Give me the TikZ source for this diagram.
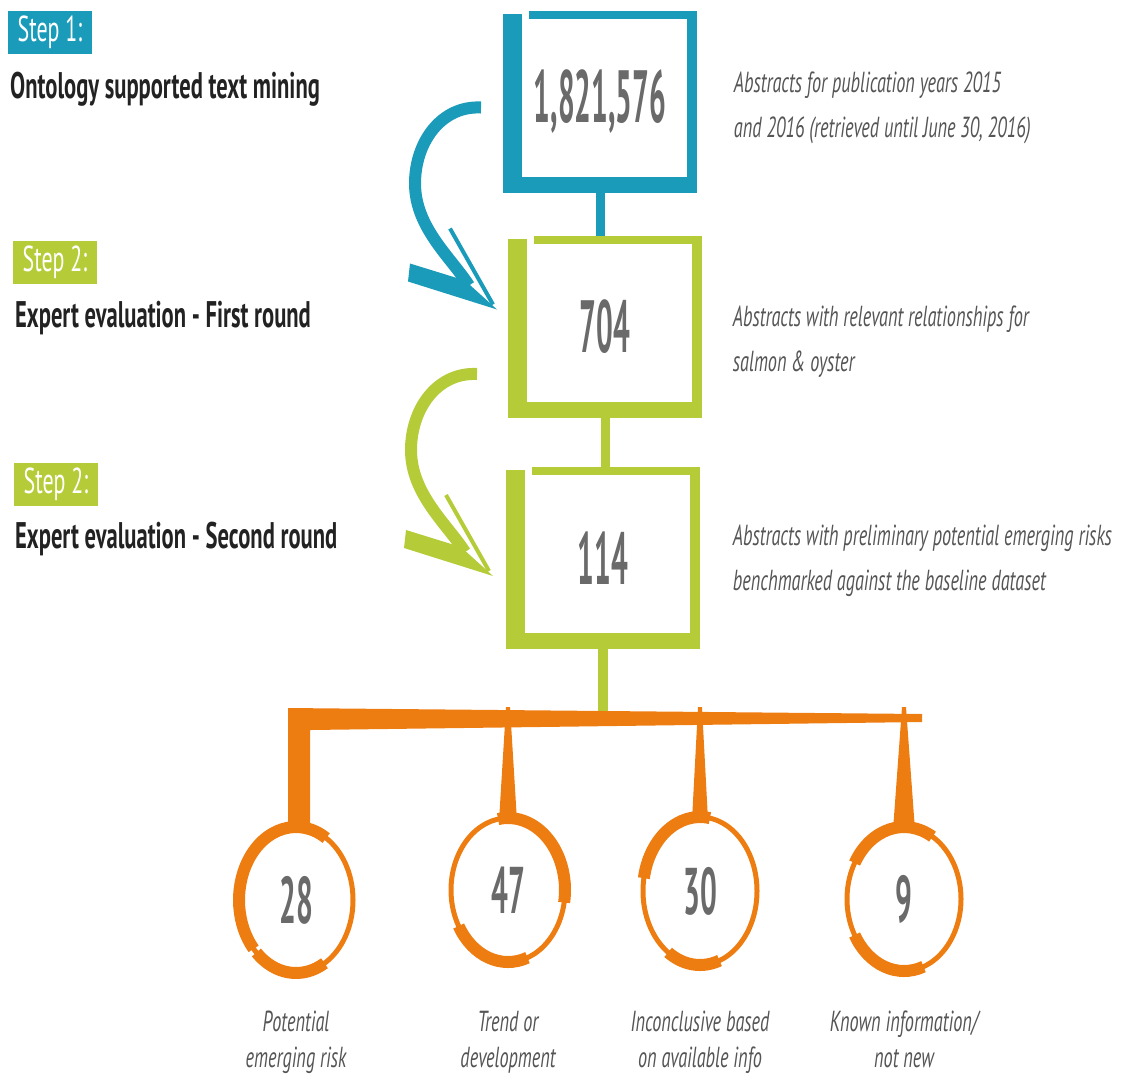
\documentclass[tikz,border=0pt]{standalone}
\usepackage{fontspec}
\setmainfont{PT Sans}
\newfontfamily\labelfont{PT Sans}[FakeStretch=0.61]
\newfontfamily\numfont{PT Sans}[FakeStretch=0.40]
\newfontfamily\ringfont{PT Sans}[FakeStretch=0.45]
\newfontfamily\notefont{PT Sans}[FakeStretch=0.63]
\usepackage{xcolor}
\usepackage{tikz}
\usetikzlibrary{positioning,calc}

\definecolor{stepblue}{HTML}{1A9BBA}
\definecolor{stepgreen}{HTML}{B5CC38}
\definecolor{riskorange}{HTML}{EE7D11}
\definecolor{numgray}{HTML}{6A6A6A}
\definecolor{notegray}{HTML}{555555}
\definecolor{labelblack}{HTML}{222222}

\tikzset{
  bendarrow/.pic={
    \draw[line width=12pt] (0,0) .. controls (-40,2) and (-66,-35) .. (-66,-76)
      .. controls (-66,-120) and (-30,-150) .. (-12,-178);
    \fill (-71,-156) -- (-16,-173) -- (16,-202) -- (-73,-174) -- cycle;
    \draw[line width=4pt] (-31,-121) -- (12,-197);
  }
}

\begin{document}
\begin{tikzpicture}[
    x=1pt, y=1pt,
    steptag/.style={fill=#1, text=white, minimum width=84pt, minimum height=43pt, inner sep=0pt,
      font=\labelfont\fontsize{36}{40}\selectfont},
    steplabel/.style={anchor=base west, inner sep=0pt, text=labelblack,
      font=\labelfont\bfseries\fontsize{37}{42}\selectfont},
    numbox/.style={minimum width=193pt, minimum height=182pt, inner sep=0pt, text=numgray,
      font=\numfont\bfseries\fontsize{74}{76}\selectfont},
    note/.style={align=left, inner sep=0pt, text=notegray,
      font=\notefont\itshape\fontsize{29}{45}\selectfont},
    ring/.style={inner sep=0pt, text=numgray, font=\ringfont\bfseries\fontsize{66}{68}\selectfont},
    catlabel/.style={anchor=north, align=center, inner sep=0pt, text=notegray,
      font=\notefont\itshape\fontsize{29}{36}\selectfont}
]
\useasboundingbox (0,0) rectangle (1124,-1077);

% Left: step tags and titles
\node[steptag=stepblue] (s1) at (50,-32) {Step 1:};
\node[steplabel] (t1) at (10,-98) {Ontology supported text mining};
\node[steptag=stepgreen] (s2) at (55,-262) {Step 2:};
\node[steplabel] (t2) at (15,-327) {Expert evaluation - First round};
\node[steptag=stepgreen] (s3) at (56,-484) {Step 2:};
\node[steplabel] (t3) at (15,-548) {Expert evaluation - Second round};

% Middle: count boxes
\node[numbox] (n1) at (600,-102) {1,821,576};
\node[numbox] (n2) at (605,-327) {704};
\node[numbox] (n3) at (603,-558) {114};

% open frames, thick on the left and bottom
\foreach \b/\col in {n1/stepblue, n2/stepgreen, n3/stepgreen} {
  \fill[\col] ($(\b.north west)+(0,-3)$) rectangle ($(\b.south west)+(19,0)$);
  \fill[\col] ($(\b.north west)+(26,0)$) rectangle ($(\b.north east)+(0,-8)$);
  \fill[\col] (\b.north east) rectangle ($(\b.south east)+(-10,0)$);
  \fill[\col] (\b.south west) rectangle ($(\b.south east)+(0,16)$);
}

\draw[line width=9pt, stepblue] (n1.south) -- (n1.south |- n2.north);
\draw[line width=9pt, stepgreen] (n2.south) -- (n2.south |- n3.north);

% Right: descriptions
\node[note, right=37pt of n1, yshift=-6pt] (d1) {Abstracts for publication years 2015\\and 2016 (retrieved until June 30, 2016)};
\node[note, right=31pt of n2, yshift=-15pt] (d2) {Abstracts with relevant relationships for\\ salmon \& oyster};
\node[note, right=33pt of n3, yshift=-3pt] (d3) {Abstracts with preliminary potential emerging risks\\benchmarked against the baseline dataset};

% Curved step arrows
\pic[color=stepblue] at (481,-107.5) {bendarrow};
\pic[color=stepgreen] at (477,-374) {bendarrow};

% Bottom: result rings
\coordinate (bus) at (603,-718);
\coordinate (lblrow) at (0,-1011);
\foreach \n/\px/\py/\ry/\a/\b/\c/\d in {28/296/-900/73/58/222/226/300, 47/508/-890/72/-10/100/210/290,
    30/700/-891/74/80/170/236/290, 9/904/-899/72/60/150/210/290} {
  \node[ring] (r\n) at (\px,\py) {\n};
  \draw[riskorange, line width=5pt] (r\n.center) ellipse [x radius=57, y radius=\ry];
  \draw[riskorange, line width=12pt] ($(r\n.center)+(\a:57 and \ry)$)
    arc [start angle=\a, end angle=\b, x radius=57, y radius=\ry];
  \draw[riskorange, line width=12pt] ($(r\n.center)+(\c:57 and \ry)$)
    arc [start angle=\c, end angle=\d, x radius=57, y radius=\ry];
  \coordinate (t\n) at ($(r\n.center)+(0,\ry)$);
}

\draw[line width=10pt, stepgreen] (n3.south) -- (n3.south |- bus);

% Orange bus with drops
\fill[riskorange] (288,-708) -- (922,-714) -- (922,-722) -- (310,-730)
  -- ($(t28)+(14,-4)$) -- ($(t28)+(-8,-4)$) -- cycle;
\foreach \n/\w in {47/9, 30/8, 9/11}
  \fill[riskorange] ($(t\n)+(-\w,-3)$) -- ($(t\n)+(\w,-3)$) -- ($(t\n |- bus)+(2,11)$) -- ($(t\n |- bus)+(-2,11)$) -- cycle;

\foreach \n/\txt in {28/{Potential\\emerging risk}, 47/{Trend or\\development},
    30/{Inconclusive based\\on available info}, 9/{Known information/\\not new}}
  \node[catlabel] (l\n) at (r\n |- lblrow) {\txt};

\end{tikzpicture}
\end{document}
